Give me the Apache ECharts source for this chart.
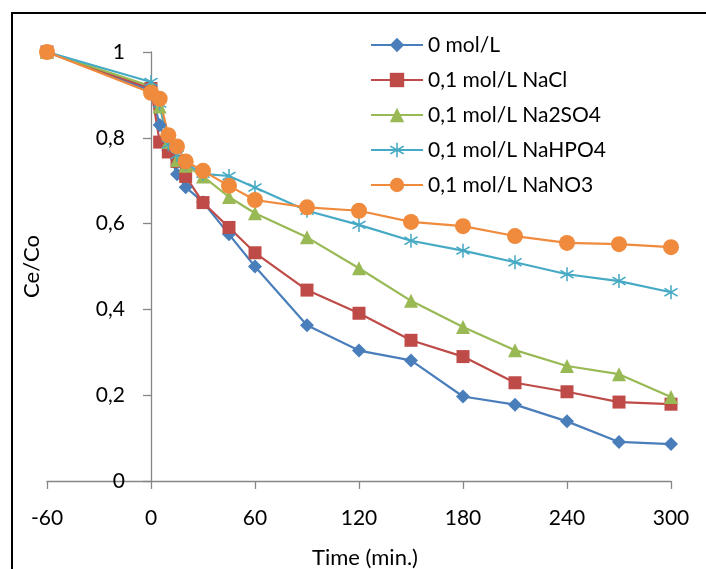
<!DOCTYPE html>
<html>
<head>
<meta charset="utf-8">
<script src="https://cdn.jsdelivr.net/npm/echarts@6/dist/echarts.min.js"></script>
<style>html,body{margin:0;padding:0;background:#fff}#c{width:706px;height:569px}</style>
</head>
<body>
<div id="c"></div>
<script>
var times = [-60, 0, 5, 10, 15, 20, 30, 45, 60, 90, 120, 150, 180, 210, 240, 270, 300];
var seriesNames = ['0 mol/L', '0,1 mol/L NaCl', '0,1 mol/L Na2SO4', '0,1 mol/L NaHPO4', '0,1 mol/L NaNO3'];
var s0 = [1, 0.91, 0.83, 0.77, 0.715, 0.685, 0.65, 0.575, 0.50, 0.363, 0.304, 0.281, 0.197, 0.178, 0.139, 0.091, 0.086];
var sNaCl = [1, 0.915, 0.79, 0.767, 0.745, 0.71, 0.649, 0.591, 0.532, 0.445, 0.391, 0.328, 0.290, 0.229, 0.208, 0.184, 0.179];
var sNa2SO4 = [1, 0.92, 0.873, 0.79, 0.748, 0.735, 0.71, 0.662, 0.624, 0.568, 0.496, 0.420, 0.359, 0.305, 0.268, 0.249, 0.196];
var sNaHPO4 = [1, 0.93, 0.88, 0.785, 0.76, 0.74, 0.716, 0.711, 0.684, 0.630, 0.597, 0.560, 0.537, 0.510, 0.482, 0.466, 0.440];
var sNaNO3 = [1, 0.905, 0.891, 0.806, 0.780, 0.745, 0.723, 0.688, 0.655, 0.638, 0.630, 0.604, 0.594, 0.571, 0.555, 0.552, 0.545];
var xTicks = [-60, 0, 60, 120, 180, 240, 300];
var yTicks = [0, 0.2, 0.4, 0.6, 0.8, 1];

var colors = ['#4A7EBB', '#BE4B48', '#98B954', '#46AAC5', '#F08A3C'];
var asterisk = 'path://M9 0L11 0L11 20L9 20Z M0.9 5.4L2.1 3.6L19.1 14.6L17.9 16.4Z M17.9 3.6L19.1 5.4L2.1 16.4L0.9 14.6Z';
var symbols = ['diamond', 'rect', 'triangle', asterisk, 'circle'];
var sizes = [14, 13, 14, 14, 16];
var allData = [s0, sNaCl, sNa2SO4, sNaHPO4, sNaNO3];

function pairs(vals) { return times.map(function (t, i) { return [t, vals[i]]; }); }

var chart = echarts.init(document.getElementById('c'), null, {renderer: 'canvas'});
var font = 'Lato';
var fs = 21;
chart.setOption({
  animation: false,
  textStyle: {fontFamily: font},
  grid: {left: 47, right: 35, top: 52, bottom: 88, containLabel: false, outerBoundsMode: 'none'},
  legend: {
    orient: 'vertical', left: 370, top: 34, padding: 0,
    itemWidth: 52, itemHeight: 18, itemGap: 13,
    textStyle: {fontSize: fs, color: '#000', fontFamily: font, lineHeight: 22},
    data: seriesNames
  },
  xAxis: {
    type: 'value', min: xTicks[0], max: xTicks[xTicks.length - 1], interval: 60,
    name: 'Time (min.)', nameLocation: 'middle', nameGap: 66,
    nameTextStyle: {fontSize: 22, color: '#000', fontFamily: font, padding: [0, 0, 0, 12]},
    axisLine: {show: true, onZero: true, lineStyle: {color: '#868686', width: 1.3}},
    axisTick: {show: true, inside: false, length: 8, lineStyle: {color: '#868686', width: 1.3}},
    axisLabel: {fontSize: fs, color: '#000', margin: 27, fontFamily: font},
    splitLine: {show: false}
  },
  yAxis: {
    type: 'value', min: yTicks[0], max: yTicks[yTicks.length - 1], interval: 0.2,
    name: 'Ce/Co', nameLocation: 'middle', nameGap: 4,
    nameTextStyle: {fontSize: 22, color: '#000', fontFamily: font},
    axisLine: {show: true, onZero: true, lineStyle: {color: '#868686', width: 1.3}},
    axisTick: {show: true, inside: false, length: 8, lineStyle: {color: '#868686', width: 1.3}},
    axisLabel: {fontSize: fs, color: '#000', margin: -78, fontFamily: font,
      formatter: function (v) { return String(Math.round(v * 10) / 10).replace('.', ','); }},
    splitLine: {show: false}
  },
  graphic: [
    {type: 'line', shape: {x1: 12, y1: 13, x2: 12, y2: 569}, style: {stroke: '#000', lineWidth: 2}},
    {type: 'line', shape: {x1: 11, y1: 13, x2: 706, y2: 13}, style: {stroke: '#000', lineWidth: 2}}
  ],
  series: seriesNames.map(function (n, i) {
    return {
      name: n, type: 'line', data: pairs(allData[i]),
      symbol: symbols[i], symbolSize: sizes[i],
      showAllSymbol: true,
      lineStyle: {color: colors[i], width: 2.2},
      itemStyle: {color: colors[i], borderWidth: 0, opacity: 1},
      emphasis: {disabled: true}
    };
  })
});
</script>
</body>
</html>
